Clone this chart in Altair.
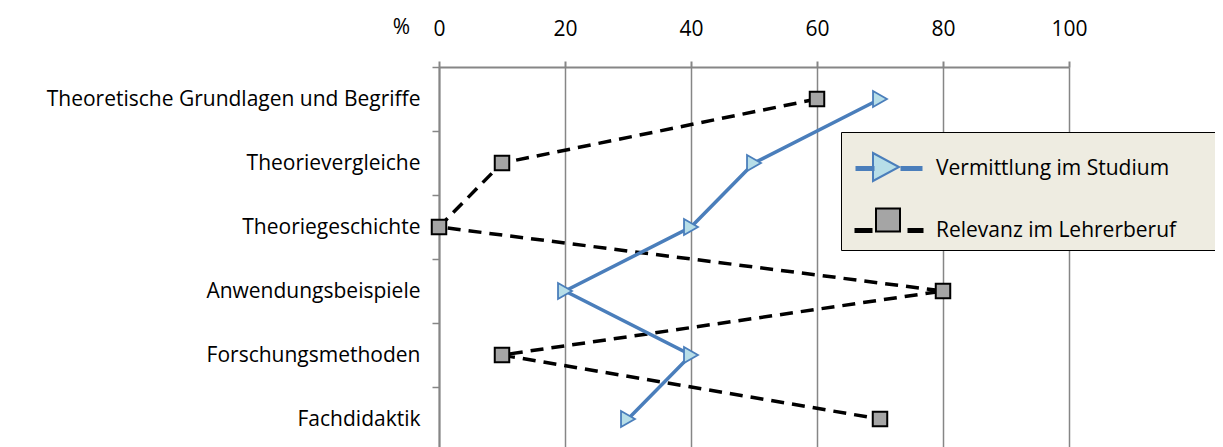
import altair as alt
import pandas as pd

categories = [
    "Theoretische Grundlagen und Begriffe",
    "Theorievergleiche",
    "Theoriegeschichte",
    "Anwendungsbeispiele",
    "Forschungsmethoden",
    "Fachdidaktik",
]
series_names = ["Vermittlung im Studium", "Relevanz im Lehrerberuf"]
vermittlung = [70, 50, 40, 20, 40, 30]
relevanz = [60, 10, 0, 80, 10, 70]
x_ticks = [0, 20, 40, 60, 80, 100]

rows = []
for i, c in enumerate(categories):
    rows.append({"Kategorie": c, "Serie": series_names[0], "Wert": vermittlung[i], "idx": i})
    rows.append({"Kategorie": c, "Serie": series_names[1], "Wert": relevanz[i], "idx": i})
df = pd.DataFrame(rows)

BLUE = "#4a7ebb"
LIGHT = "#b7dee8"
GRAY = "#a5a5a5"
GRID = "#868686"
FONT = "Open Sans"

x_enc = alt.X(
    "Wert:Q",
    scale=alt.Scale(domain=[0, 100], nice=False),
    axis=alt.Axis(
        orient="top", values=x_ticks, title="%", titleAngle=0, titleX=-38, titleY=-40,
        titleAlign="center", titleBaseline="middle", titleFont=FONT, titleFontSize=21,
        titleFontWeight="normal", titleColor="#000",
        labelFont=FONT, labelFontSize=21, labelColor="#000", labelPadding=22,
        labelFlush=False,
        tickSize=6, tickColor=GRID, tickWidth=2, domainColor=GRID, domainWidth=2,
        grid=True, gridColor=GRID, gridWidth=1.5,
    ),
)
y_enc = alt.Y(
    "Kategorie:N",
    sort=categories,
    scale=alt.Scale(paddingInner=0, paddingOuter=0),
    axis=alt.Axis(
        title=None, labelFont=FONT, labelFontSize=21, labelColor="#000", labelPadding=12,
        labelLimit=600, tickBand="extent", tickSize=7, tickColor=GRID, tickWidth=1.5,
        domainColor=GRID, domainWidth=2, grid=False,
    ),
)

base = alt.Chart(df)

line_v = base.transform_filter(alt.datum.Serie == series_names[0]).mark_line(
    color=BLUE, strokeWidth=3.5
).encode(x=x_enc, y=y_enc, order="idx:Q")
line_r = base.transform_filter(alt.datum.Serie == series_names[1]).mark_line(
    color="#000", strokeWidth=3.5, strokeDash=[13, 8]
).encode(x=x_enc, y=y_enc, order="idx:Q")
pts_v = base.transform_filter(alt.datum.Serie == series_names[0]).mark_point(
    shape="triangle-right", filled=True, fill=LIGHT, stroke=BLUE, strokeWidth=1.8, size=260, opacity=1
).encode(x=x_enc, y=y_enc)
pts_r = base.transform_filter(alt.datum.Serie == series_names[1]).mark_square(
    fill=GRAY, stroke="#000", strokeWidth=2, size=210, opacity=1
).encode(x=x_enc, y=y_enc)

# legend helpers (no data drawn; legends come from scale domains)
pad_box = "M0,-0.5M0,0.5"
line_paths = [
    "M-1.1,0H-0.15M1.15,0H2.25" + pad_box,
    "M-1.15,0H-0.25M1.5,0H2.3" + pad_box,
]
marker_paths = [
    "M-0.15,-0.7L1.15,0L-0.15,0.7Z",
    "M0,-0.58H1.2V0.58H0Z",
]
dom_a = series_names
dom_b = [s + " " for s in series_names]

leg_common = dict(
    orient="none", title=None, symbolSize=1600,
    labelOffset=36, labelFont=FONT, labelFontSize=21, labelColor="#000",
    labelLimit=800,
)
# A: line segments + visible labels, on top, no frame
leg_a_props = dict(leg_common, legendX=404, legendY=67, padding=12, rowPadding=19,
                   symbolStrokeWidth=5, zindex=2)
# B: markers + frame (widened with hidden label text), below A
leg_b_props = dict(leg_common, legendX=402, legendY=65, padding=14, rowPadding=14,
                   symbolStrokeWidth=2, labelOpacity=0,
                   labelExpr="datum.label + 'MMMMM'", fillColor="#eeece1", strokeColor="#000",
                   zindex=1)

leg_a = base.transform_filter("false").mark_point(filled=False, opacity=1, strokeWidth=5).encode(
    shape=alt.Shape("Serie:N", scale=alt.Scale(domain=dom_a, range=line_paths),
                    legend=alt.Legend(symbolFillColor="transparent", **leg_a_props)),
    stroke=alt.Stroke("Serie:N", scale=alt.Scale(domain=dom_a, range=[BLUE, "#000"]),
                      legend=alt.Legend(**leg_a_props)),
)
leg_b = base.transform_filter("false").transform_calculate(SerieB="datum.Serie + ' '").mark_point(
    filled=True, opacity=1, strokeWidth=2
).encode(
    shape=alt.Shape("SerieB:N", scale=alt.Scale(domain=dom_b, range=marker_paths),
                    legend=alt.Legend(**leg_b_props)),
    fill=alt.Fill("SerieB:N", scale=alt.Scale(domain=dom_b, range=[LIGHT, GRAY]),
                  legend=alt.Legend(**leg_b_props)),
    stroke=alt.Stroke("SerieB:N", scale=alt.Scale(domain=dom_b, range=[BLUE, "#000"]),
                      legend=alt.Legend(**leg_b_props)),
)

chart = alt.layer(line_r, line_v, pts_r, pts_v, leg_a, leg_b).resolve_scale(
    shape="independent", stroke="independent", fill="independent"
).properties(
    width=630, height=384,
    autosize=alt.AutoSizeParams(type="none"),
    padding={"left": 431, "top": 59, "right": 146, "bottom": 0},
).configure_view(stroke=None).configure(background="white")

chart.save("out.html", embed_options={"renderer": "svg", "actions": False})
